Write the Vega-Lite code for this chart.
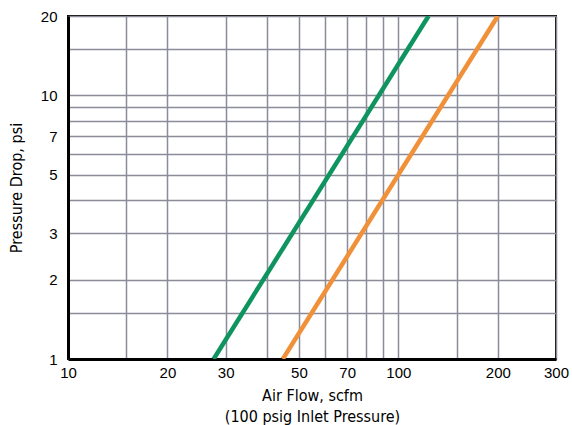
{
  "$schema": "https://vega.github.io/schema/vega-lite/v6.json",
  "width": 488,
  "height": 343,
  "autosize": {"type": "none"},
  "padding": {"left": 68, "top": 16, "right": 16, "bottom": 66},
  "background": "white",
  "config": {
    "view": {"stroke": "black", "strokeWidth": 2},
    "axis": {
      "labelFont": "Liberation Sans",
      "labelFontSize": 15,
      "labelColor": "black",
      "titleFont": "Liberation Sans Narrow, DejaVu Sans Condensed, sans-serif",
      "titleFontWeight": "normal",
      "titleFontSize": 16,
      "titleColor": "black",
      "gridColor": "#8a8c9a",
      "gridWidth": 1.5,
      "gridOpacity": 1,
      "ticks": false,
      "domainColor": "black",
      "domainWidth": 3
    }
  },
  "data": {
    "values": [
      {"flow": 27.6, "drop": 1, "series": "A"},
      {"flow": 123.4, "drop": 20, "series": "A"},
      {"flow": 44.7, "drop": 1, "series": "B"},
      {"flow": 200, "drop": 20, "series": "B"}
    ]
  },
  "mark": {"type": "line", "strokeWidth": 4.5, "clip": true, "strokeCap": "butt"},
  "encoding": {
    "x": {
      "field": "flow",
      "type": "quantitative",
      "scale": {"type": "log", "domain": [10, 300], "nice": false},
      "axis": {
        "values": [10, 15, 20, 30, 40, 50, 60, 70, 80, 90, 100, 150, 200, 300],
        "labelExpr": "indexof([10,20,30,50,70,100,200,300], datum.value) >= 0 ? datum.value : ''",
        "labelPadding": 6,
        "labelFlush": false,
        "labelOverlap": false,
        "title": ["Air Flow, scfm", "(100 psig Inlet Pressure)"],
        "titleY": 41,
        "titleX": 244,
        "titleBaseline": "alphabetic",
        "titleLineHeight": 21
      }
    },
    "y": {
      "field": "drop",
      "type": "quantitative",
      "scale": {"type": "log", "domain": [1, 20], "nice": false},
      "axis": {
        "values": [1, 1.5, 2, 3, 4, 5, 6, 7, 8, 9, 10, 15, 20],
        "labelExpr": "indexof([1,2,3,5,7,10,20], datum.value) >= 0 ? datum.value : ''",
        "labelPadding": 11,
        "labelFlush": false,
        "labelOverlap": false,
        "title": "Pressure Drop, psi",
        "titleX": -52,
        "titleY": 171.5,
        "titleAngle": -90,
        "titleAlign": "center",
        "titleBaseline": "middle"
      }
    },
    "color": {
      "field": "series",
      "type": "nominal",
      "scale": {"domain": ["A", "B"], "range": ["#0f9460", "#f0913a"]},
      "legend": null
    }
  }
}
